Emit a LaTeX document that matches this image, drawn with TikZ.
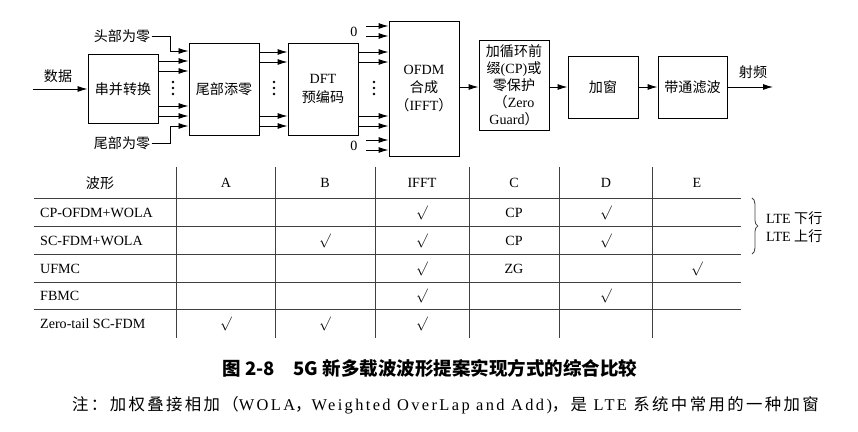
\documentclass[tikz,border=0pt]{standalone}
\usepackage{fontspec}
\setmainfont{Liberation Serif}
\newfontfamily\cjk{Noto Sans CJK SC}
\newfontfamily\notezh{Noto Sans CJK SC}[LetterSpace=14.5]
\newfontfamily\notelat{Liberation Serif}[LetterSpace=14.5]
\newcommand{\zh}[1]{{\cjk #1}}
\newcommand{\nzh}[1]{{\notezh #1}}
\newcommand{\ck}{$\surd$}
\usetikzlibrary{arrows.meta,positioning,decorations.pathreplacing}

\begin{document}
\begin{tikzpicture}[x=0.03cm,y=-0.03cm,
  blk/.style={draw,line width=0.8pt,inner sep=1pt,align=center,
    font=\fontsize{12}{15.5}\selectfont},
  arr/.style={-{Latex[length=3mm,width=1.8mm]},line width=0.8pt},
  lbl/.style={font=\fontsize{12}{15}\selectfont,inner sep=1pt},
  cell/.style={font=\fontsize{12}{14}\selectfont,inner sep=0pt},
  grid/.style={line width=0.7pt,draw=black!75},
  note/.style={anchor=west,inner sep=0pt,font=\fontsize{14}{17}\selectfont\notelat}
]
  \useasboundingbox (0,0) rectangle (858,432);
  % Blocks
  \node[blk,minimum width=2.1cm,minimum height=2.07cm] (sp) at (123,89) {\zh{串并转换}};
  \node[blk,minimum width=2.1cm,minimum height=2.76cm] (tz) at (224,89) {\zh{尾部添零}};
  \node[blk,minimum width=2.1cm,minimum height=2.76cm] (dft) at (323,89) {DFT\\\zh{预编码}};
  \node[blk,minimum width=2.1cm,minimum height=4.05cm] (ofdm) at (424,88.5) {OFDM\\\zh{合成}\\\zh{（}IFFT\zh{）}};
  \node[blk,minimum width=2.1cm,minimum height=2.7cm,font=\fontsize{12}{14.5}\selectfont] (cp) at (514,85)
    {\zh{加循环前}\\\zh{缀}(CP)\zh{或}\\\zh{零保护}\\\zh{（}Zero\\Guard\zh{）}};
  \node[blk,minimum width=2.1cm,minimum height=1.86cm] (win) at (603,87) {\zh{加窗}};
  \node[blk,minimum width=2.07cm,minimum height=1.86cm] (bpf) at (692.5,87) {\zh{带通滤波}};
  % Labels
  \node[lbl] (data) at (58,76) {\zh{数据}};
  \node[lbl] (head) at (122,36) {\zh{头部为零}};
  \node[lbl] (tail) at (122,143) {\zh{尾部为零}};
  \node[lbl] (rf) at (753,72) {\zh{射频}};
  \node[lbl] (zt) at (354,32) {0};
  \node[lbl] (zb) at (354,146) {0};
  \coordinate (in) at (33,89);
  \coordinate (out) at (773,87);
  % Connectors
  \draw[arr] (in) -- (sp.west);
  \draw[arr] (head.east) -| (170,51) -- (tz.west |- 0,51);
  \draw[arr] (tail.east) -| (170,126) -- (tz.west |- 0,126);
  \foreach \y in {61,71,106,116}
    \draw[arr] (sp.east |- 0,\y) -- (tz.west |- 0,\y);
  \foreach \y in {52,62,116,126}{
    \draw[arr] (tz.east |- 0,\y) -- (dft.west |- 0,\y);
    \draw[arr] (dft.east |- 0,\y) -- (ofdm.west |- 0,\y);
  }
  \foreach \y in {26,36,140,150}{
    \coordinate (z\y) at (366,\y);
    \draw[arr] (z\y) -- (ofdm.west |- z\y);
  }
  \draw[arr] (ofdm.east |- win.west) -- (cp.west |- win.west);
  \draw[arr] (cp.east |- win.west) -- (win.west);
  \draw[arr] (win.east) -- (bpf.west);
  \draw[arr] (bpf.east) -- (out);
  \foreach \x in {173,274,374}
    \foreach \d in {82,88,94}
      \fill (\x,\d) circle (1.3);
  % Table
  \foreach \x in {176,275,375,469,559,652}
    \draw[grid] (\x,167) -- (\x,338);
  \foreach \y in {198,226,254,282,309}
    \draw[grid] (34,\y) -- (741,\y);
  \node[cell] (hw) at (100,183) {\zh{波形}};
  \foreach \c/\t in {226/A,325/B,422/IFFT,514/C,606/D,697/E}
    \node[cell] (h\t) at (\c,183) {\t};
  \foreach \r/\t/\y in {1/CP-OFDM+WOLA/213,2/SC-FDM+WOLA/241,3/UFMC/269,4/FBMC/296,5/Zero-tail SC-FDM/324}
    \node[cell,anchor=west] (r\r) at (40,\y) {\t};
  \foreach \c/\y in {422/213,422/241,422/269,422/296,422/324,606/213,606/241,606/296,325/241,325/324,226/324,697/269}
    \node[cell] at (\c,\y) {\ck};
  \node[cell] at (514,213) {CP};
  \node[cell] at (514,241) {CP};
  \node[cell] at (514,269) {ZG};
  \draw[grid,decorate,decoration={brace,amplitude=5pt}] (752,198) -- (752,254);
  \node[cell,anchor=west] (dl) at (766,218) {LTE \zh{下行}};
  \node[cell,anchor=west] (ul) at (766,236) {LTE \zh{上行}};
  % Caption and note
  \node[font=\fontsize{15.8}{19}\selectfont\cjk\bfseries] (cap) at (430,368)
    {图 2-8\quad 5G 新多载波波形提案实现方式的综合比较};
  \node[note] (note1) at (72,405)
    {\nzh{注：加权叠接相加（}WOLA\nzh{，}Weighted OverLap and Add)\nzh{，是} LTE \nzh{系统中常用的一种加窗}};
  \node[note] (note2) at (36,441) {\nzh{技术。}};
\end{tikzpicture}
\end{document}
